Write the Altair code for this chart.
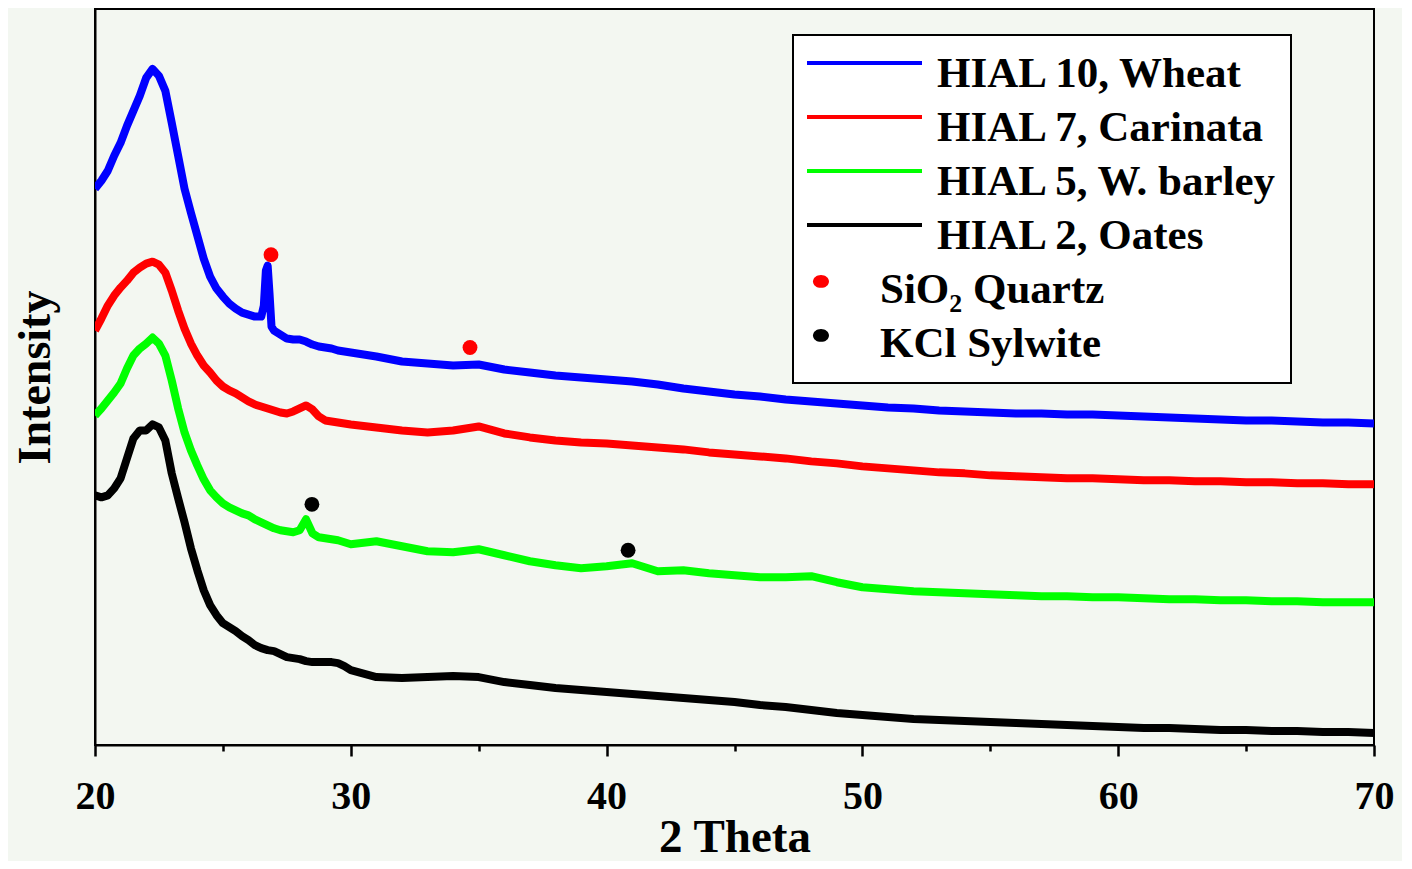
import altair as alt
import pandas as pd

# 2-theta sampling positions (degrees)
THETA = [20, 20.25, 20.5, 20.75, 21, 21.25, 21.5, 21.75, 22, 22.25, 22.5, 22.75,
         23, 23.25, 23.5, 23.75, 24, 24.25, 24.5, 24.75, 25, 25.25, 25.5, 25.75,
         26, 26.25, 26.5, 26.75, 27, 27.25, 27.5, 27.75, 28, 28.25, 28.5, 28.75,
         29, 29.25, 29.5, 29.75, 30,
         31, 32, 33, 34, 35, 36, 37, 38, 39, 40, 41, 42, 43, 44, 45, 46, 47, 48, 49, 50,
         51, 52, 53, 54, 55, 56, 57, 58, 59, 60, 61, 62, 63, 64, 65, 66, 67, 68, 69, 70]

# Intensities (arbitrary units, offset stacked as in the figure)
WHEAT = [557, 565, 575, 590, 603, 620, 635, 650, 668, 677, 670, 655, 623, 590, 557, 533,
         510, 487, 469, 457, 449, 442, 437, 433, 431, 429, 429, 480, 415, 411, 407, 406,
         406, 404, 401, 399, 398, 397, 395, 394, 393,
         389, 384, 382, 380, 381, 376, 373, 370, 368, 366, 364, 361, 357, 354, 351, 349,
         346, 344, 342, 340, 338, 337, 335, 334, 333, 332, 332, 331, 331, 330, 329, 328,
         327, 326, 325, 325, 324, 323, 323, 322]
WHEAT_PEAK_THETA = [26.6, 26.68, 26.82, 26.9]
WHEAT_PEAK_INT = [440, 475, 453, 419]

CARINATA = [415, 427, 440, 450, 458, 465, 473, 478, 482, 484, 481, 473, 455, 435, 417, 402,
            390, 380, 373, 365, 359, 355, 352, 348, 344, 341, 339, 337, 335, 333, 332, 334,
            337, 340, 336, 329, 325, 324, 323, 322, 321,
            318, 315, 313, 315, 319, 312, 308, 305, 303, 302, 300, 298, 296, 293, 291, 289,
            287, 284, 282, 279, 277, 275, 273, 272, 270, 269, 268, 267, 267, 266, 265, 265,
            264, 264, 263, 263, 262, 262, 261, 261]

BARLEY = [330, 337, 345, 353, 362, 377, 390, 397, 402, 408, 402, 390, 365, 337, 313, 295,
          280, 266, 255, 248, 242, 238, 235, 232, 230, 226, 223, 220, 217, 215, 214, 213,
          215, 226, 212, 208, 207, 206, 205, 203, 201,
          204, 199, 194, 193, 196, 190, 184, 180, 177, 179, 182, 174, 175, 172, 170, 168,
          168, 169, 163, 158, 156, 154, 153, 152, 151, 150, 149, 149, 148, 148, 147, 146,
          146, 145, 145, 144, 144, 143, 143, 143]

OATES = [250, 248, 250, 257, 267, 287, 307, 315, 315, 321, 318, 305, 272, 247, 223, 197,
         175, 155, 140, 130, 122, 118, 114, 109, 105, 100, 97, 95, 94, 91, 88, 87,
         86, 84, 83, 83, 83, 83, 82, 79, 75,
         68, 67, 68, 69, 68, 63, 60, 57, 55, 53, 51, 49, 47, 45, 43, 40,
         38, 35, 32, 30, 28, 26, 25, 24, 23, 22, 21, 20, 19, 18, 17, 17,
         16, 15, 15, 14, 14, 13, 13, 12]

SERIES = ["HIAL 10, Wheat", "HIAL 7, Carinata", "HIAL 5, W. barley", "HIAL 2, Oates"]
PHASES = ["SiO\u2082 Quartz", "KCl Sylwite"]
COLORS = ["#0000ff", "#ff0000", "#00ff00", "#000000", "#ff0000", "#000000"]

# Phase markers
MARKER_LABEL = [PHASES[0], PHASES[0], PHASES[1], PHASES[1]]
MARKER_THETA = [26.88, 34.66, 28.48, 40.84]
MARKER_INT = [491, 398, 241, 195]

X_TICKS = [20, 25, 30, 35, 40, 45, 50, 55, 60, 65, 70]

rows = []
for name, vals in zip(SERIES, [WHEAT, CARINATA, BARLEY, OATES]):
    for t, v in zip(THETA, vals):
        rows.append({"theta": t, "intensity": v, "label": name})
for t, v in zip(WHEAT_PEAK_THETA, WHEAT_PEAK_INT):
    rows.append({"theta": t, "intensity": v, "label": SERIES[0]})
lines_df = pd.DataFrame(rows)
marks_df = pd.DataFrame({"theta": MARKER_THETA, "intensity": MARKER_INT, "label": MARKER_LABEL})

FONT = "Liberation Serif"
IS_MARKER = "(datum.value === '%s' || datum.value === '%s')" % (PHASES[0], PHASES[1])
LINE_PATH = "M-1,-0.19L1,-0.19"
CIRCLE_PATH = ("M-0.896,-0.15A0.139,0.113,0,1,0,-0.618,-0.15"
               "A0.139,0.113,0,1,0,-0.896,-0.15Z")

legend = alt.Legend(
    title=None, orient="none", legendX=698, legendY=26, direction="vertical",
    fillColor="white", strokeColor="black", padding=12,
    symbolType=alt.ExprRef(expr="(%s ? '%s' : '%s')" % (IS_MARKER, CIRCLE_PATH, LINE_PATH)),
    symbolSize=13225,
    symbolStrokeWidth=alt.ExprRef(expr="(%s ? 0 : 4)" % IS_MARKER),
    symbolOpacity=1,
    clipHeight=54, rowPadding=0,
    labelOffset=alt.ExprRef(expr="(%s ? -44 : 13)" % IS_MARKER),
    labelFont=FONT, labelFontWeight="bold", labelFontSize=43, labelColor="black",
    labelLimit=800,
)

color = alt.Color("label:N", scale=alt.Scale(domain=SERIES + PHASES, range=COLORS), legend=legend)

x_enc = alt.X(
    "theta:Q",
    scale=alt.Scale(domain=[20, 70], nice=False, zero=False),
    axis=alt.Axis(
        title="2 Theta", values=X_TICKS,
        labelExpr="datum.value % 10 === 0 ? datum.label : ''",
        tickSize={"condition": {"test": "datum.value % 10 === 0", "value": 11}, "value": 6},
        tickWidth=2.5, tickColor="black", domainColor="black", domainWidth=2,
        grid=False, labelOverlap=False, labelFlush=False,
        labelFont=FONT, labelFontWeight="bold", labelFontSize=40, labelColor="black",
        labelPadding=20,
        titleFont=FONT, titleFontWeight="bold", titleFontSize=47, titleColor="black",
        titlePadding=-2,
    ),
)
y_enc = alt.Y(
    "intensity:Q",
    scale=alt.Scale(domain=[0, 737], nice=False, zero=False),
    axis=alt.Axis(
        title="Intensity", ticks=False, labels=False, grid=False,
        domainColor="black", domainWidth=2,
        titleFont=FONT, titleFontWeight="bold", titleFontSize=46, titleColor="black",
        titlePadding=36,
    ),
)

lines = alt.Chart(lines_df).mark_line(strokeWidth=8, strokeJoin="round", clip=True).encode(
    x=x_enc, y=y_enc, color=color
)
points = alt.Chart(marks_df).mark_point(filled=True, shape="circle", size=220, opacity=1).encode(
    x=x_enc, y=y_enc, color=color
)

chart = alt.layer(lines, points).properties(
    width=1279, height=736,
    padding={"left": 87, "top": 1, "right": 28, "bottom": 116},
    autosize=alt.AutoSizeParams(type="none"),
    background="#f3f7f1",
).configure_view(stroke="black", strokeWidth=2).configure_legend(strokeWidth=2)

chart.save("out.html", embed_options={"renderer": "svg", "actions": False})
